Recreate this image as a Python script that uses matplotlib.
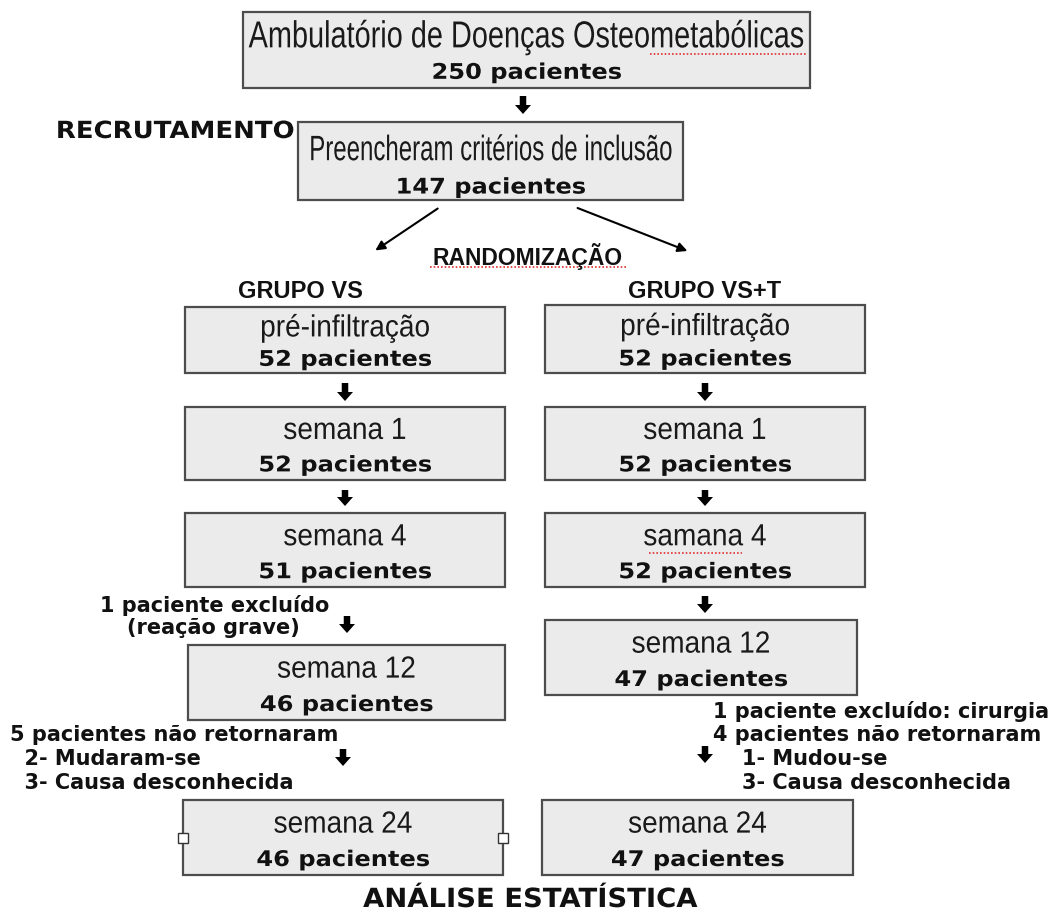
import matplotlib.pyplot as plt
from matplotlib.patches import Rectangle, FancyArrow
from matplotlib.patheffects import AbstractPathEffect
from matplotlib.transforms import Affine2D

# flowchart content
top_title = "Ambulatório de Doenças Osteometabólicas"
top_n = 250
incl_title = "Preencheram critérios de inclusão"
incl_n = 147
groups = ["GRUPO VS", "GRUPO VS+T"]
steps_vs = ["pré-infiltração", "semana 1", "semana 4", "semana 12", "semana 24"]
n_vs = [52, 52, 51, 46, 46]
steps_vst = ["pré-infiltração", "semana 1", "samana 4", "semana 12", "semana 24"]
n_vst = [52, 52, 52, 47, 47]
notes_vs = [["1 paciente excluído", "(reação grave)"],
            ["5 pacientes não retornaram", "  2- Mudaram-se", "  3- Causa desconhecida"]]
notes_vst = ["1 paciente excluído: cirurgia", "4 pacientes não retornaram",
             "    1- Mudou-se", "    3- Causa desconhecida"]

REG = ['Liberation Sans', 'DejaVu Sans']
BOLD = ['DejaVu Sans']
FILL = '#ebebeb'
EDGE = '#4d4d4d'


class Stretch(AbstractPathEffect):
    # scale glyphs around their own centre (narrow / tall lettering)
    def __init__(self, sx=1.0, sy=1.0):
        super().__init__()
        self.sx = sx
        self.sy = sy

    def draw_path(self, renderer, gc, tpath, affine, rgbFace=None):
        v = tpath.vertices
        if len(v) == 0:
            return
        cx = (v[:, 0].min() + v[:, 0].max()) / 2
        cy = (v[:, 1].min() + v[:, 1].max()) / 2
        tr = (Affine2D().translate(-cx, -cy).scale(self.sx, self.sy)
              .translate(cx, cy) + affine)
        renderer.draw_path(gc, tpath, tr, rgbFace)


fig = plt.figure(figsize=(10.55, 9.16), dpi=100)
ax = fig.add_axes([0, 0, 1, 1])
ax.set_xlim(0, 1055)
ax.set_ylim(916, 0)
ax.axis('off')


def btext(x, y, s, size=15, sx=1.0, ha='left'):
    t = ax.text(x, y, s, ha=ha, va='center', fontsize=size, family=BOLD,
                fontweight='bold', color='#111111')
    if sx != 1.0:
        t.set_path_effects([Stretch(sx, 1.0)])
    return t


def box(x0, y0, x1, y1, title, n, tsize=20.2, tsy=1.09, ty=0.33, ny=0.8):
    ax.add_patch(Rectangle((x0, y0), x1 - x0, y1 - y0, facecolor=FILL,
                           edgecolor=EDGE, lw=1.6))
    cx = (x0 + x1) / 2
    h = y1 - y0
    t = ax.text(cx, y0 + h * ty, title, ha='center', va='center',
                fontsize=tsize, family=REG, color='#1a1a1a')
    if tsy != 1.0:
        t.set_path_effects([Stretch(1.0, tsy)])
    btext(cx, y0 + h * ny, "%d pacientes" % n, size=15.5, sx=1.12, ha='center')


def down(x, y0, y1):
    ax.add_patch(FancyArrow(x, y0, 0, y1 - y0, width=6.5, head_width=16,
                            head_length=9, length_includes_head=True,
                            color='black', lw=0))


def squiggle(x0, x1, y):
    ax.plot([x0, x1], [y, y], color='#e03030', lw=1.2, ls=(0, (1, 1.2)))


# recruitment part
box(243, 12, 810, 88, top_title, top_n, tsize=20.8, tsy=1.3, ty=0.33, ny=0.8)
squiggle(650, 806, 54)
down(523, 96, 114)
btext(175, 131, "RECRUTAMENTO", size=17, sx=1.1, ha='center')
box(298, 122, 683, 200, incl_title, incl_n, tsize=17.3, tsy=1.47, ty=0.36, ny=0.84)

ax.annotate("", xy=(373, 252), xytext=(440, 207),
            arrowprops=dict(arrowstyle='-|>', lw=1.5, color='black',
                            mutation_scale=14))
ax.annotate("", xy=(690, 252), xytext=(575, 207),
            arrowprops=dict(arrowstyle='-|>', lw=1.5, color='black',
                            mutation_scale=14))
ax.text(528, 256, "RANDOMIZAÇÃO", ha='center', va='center', fontsize=16.5,
        family=['Liberation Sans'], fontweight='bold', color='#111111')
squiggle(430, 627, 267)

ax.text(300, 291, groups[0], ha='center', va='center', fontsize=17,
        family=['Liberation Sans'], fontweight='bold', color='#111111')
ax.text(705, 291, groups[1], ha='center', va='center', fontsize=17,
        family=['Liberation Sans'], fontweight='bold', color='#111111')

# group VS column
left_boxes = [(185, 307, 505, 373), (185, 407, 505, 480), (185, 513, 505, 587),
              (188, 645, 505, 720), (183, 800, 503, 875)]
for (x0, y0, x1, y1), t, n in zip(left_boxes, steps_vs, n_vs):
    box(x0, y0, x1, y1, t, n)
down(345, 383, 401)
down(345, 490, 506)
down(347, 616, 633)
down(343, 749, 766)
# selection handles on last box
for hx in (183, 503):
    ax.add_patch(Rectangle((hx - 5, 833), 10, 10, facecolor='white',
                           edgecolor='#333333', lw=1, zorder=5))

btext(100, 606, notes_vs[0][0])
btext(127, 628, notes_vs[0][1])
for i, s in enumerate(notes_vs[1]):
    btext(10, 735 + i * 24, s)

# group VS+T column
right_boxes = [(545, 305, 865, 373), (545, 407, 865, 480), (545, 513, 865, 587),
               (545, 620, 857, 695), (542, 800, 853, 875)]
for (x0, y0, x1, y1), t, n in zip(right_boxes, steps_vst, n_vst):
    box(x0, y0, x1, y1, t, n)
squiggle(649, 742, 553)
down(705, 383, 401)
down(705, 490, 506)
down(705, 596, 613)
down(705, 746, 763)
for i, s in enumerate(notes_vst):
    btext(713, 711 + i * 24, s)

btext(530, 900, "ANÁLISE ESTATÍSTICA", size=19, sx=1.04, ha='center')

fig.savefig('out.png', dpi=100, facecolor='white')
